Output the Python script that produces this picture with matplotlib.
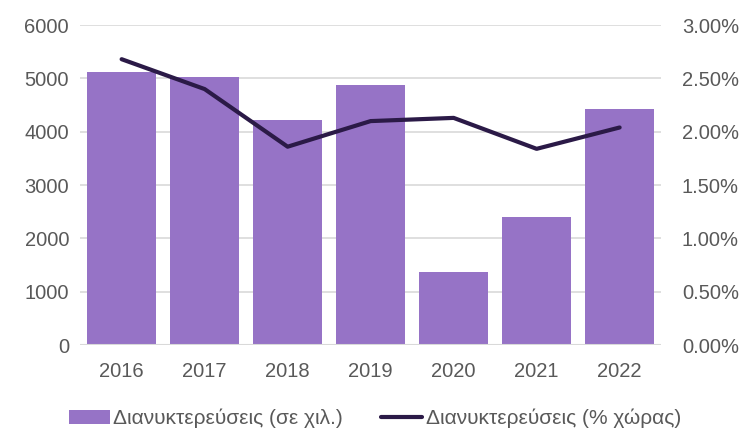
# bar + line combo chart: overnight stays (thousands) and share of country (%)
import matplotlib.pyplot as plt
from matplotlib.ticker import PercentFormatter

years = ['2016', '2017', '2018', '2019', '2020', '2021', '2022']
stays = [5115, 5020, 4220, 4880, 1375, 2405, 4430]
share = [2.68, 2.40, 1.86, 2.10, 2.13, 1.84, 2.04]

plt.rcParams['font.family'] = ['Liberation Sans', 'DejaVu Sans']
textColor = '#595959'

fig = plt.figure(figsize=(7.42, 4.32), dpi=100)
ax = fig.add_axes([0.108, 0.201, 0.783, 0.741])
ax2 = ax.twinx()

x = range(len(years))
ax.bar(x, stays, width=0.83, color='#9673C6', label='Διανυκτερεύσεις (σε χιλ.)', zorder=2)
ax2.plot(x, share, color='#2B1A47', linewidth=3, label='Διανυκτερεύσεις (% χώρας)',
         solid_capstyle='round')

ax.set_xlim(-0.5, 6.5)
ax.set_ylim(0, 6000)
ax.set_yticks(range(0, 6001, 1000))
ax2.set_ylim(0, 3)
ax2.set_yticks([0, 0.5, 1, 1.5, 2, 2.5, 3])
ax2.yaxis.set_major_formatter(PercentFormatter(decimals=2))

ax.set_xticks(list(x))
ax.set_xticklabels(years)
ax.grid(axis='y', color='#D9D9D9', linewidth=1.2, zorder=0)
ax.set_axisbelow(True)

for a in (ax, ax2):
    for side in ('top', 'left', 'right', 'bottom'):
        a.spines[side].set_visible(False)
    a.tick_params(length=0, labelsize=14.5, labelcolor=textColor)
ax.axhline(0, color='#D9D9D9', linewidth=1.5, zorder=3)
ax.tick_params(axis='y', pad=8)
ax.tick_params(axis='x', pad=12)
ax2.tick_params(axis='y', pad=15)

h1, l1 = ax.get_legend_handles_labels()
h2, l2 = ax2.get_legend_handles_labels()
fig.legend(h1 + h2, l1 + l2, loc='lower center', bbox_to_anchor=(0.505, -0.035), ncol=2,
           frameon=False, fontsize=15, labelcolor=textColor, handlelength=2.0,
           handletextpad=0.15, columnspacing=1.8)

plt.savefig('out.png', dpi=100)
